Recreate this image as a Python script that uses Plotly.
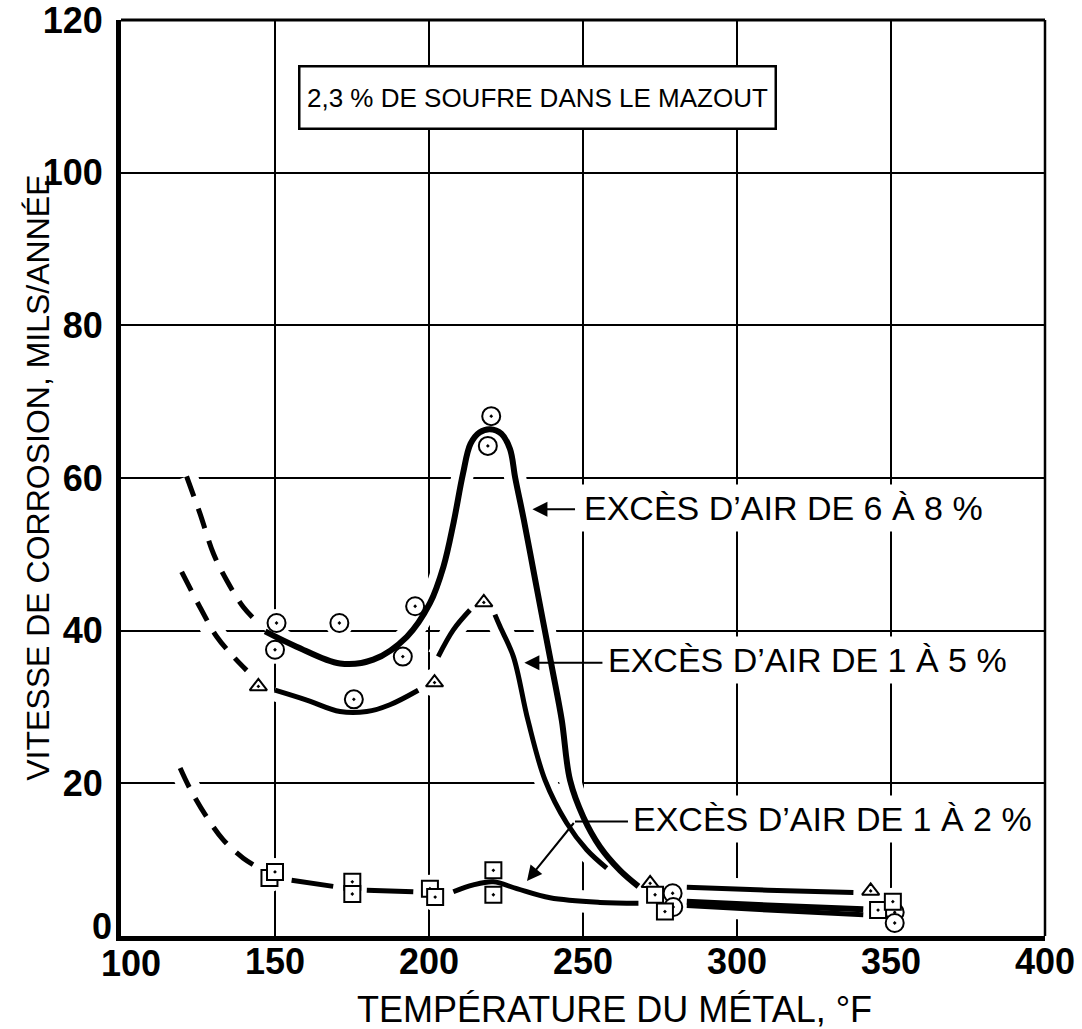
import plotly.graph_objects as go

# ---------------------------------------------------------------------------
# Measured points: metal temperature (°F) vs corrosion rate (mils/year)
# ---------------------------------------------------------------------------
# 6 to 8 % excess air (circles)
T_68 = [150.5, 150.0, 170.9, 175.6, 191.5, 195.5, 219.1, 220.2, 279.1, 279.3, 351.2, 351.2]
V_68 = [41.0, 37.5, 41.0, 31.0, 36.6, 43.2, 64.2, 68.1, 5.6, 3.8, 3.1, 1.7]
# 1 to 5 % excess air (triangles)
T_15 = [144.6, 201.8, 217.8, 271.8, 343.4]
V_15 = [32.7, 33.2, 43.7, 6.9, 5.9]
# 1 to 2 % excess air (squares)
T_12 = [148.2, 150.0, 175.1, 175.1, 200.3, 202.0, 220.9, 220.9, 273.4, 276.6, 345.8, 350.6]
V_12 = [7.6, 8.4, 7.1, 5.5, 6.2, 5.1, 8.6, 5.4, 5.4, 3.2, 3.4, 4.5]

# ---------------------------------------------------------------------------
# Faired curves (dashed = extrapolation, solid = fit; None = break in the line)
# ---------------------------------------------------------------------------
C68_DASH_T = [121.3, 125.6, 130.0, 134.3, 139.7, 144.1]
C68_DASH_V = [60.2, 55.4, 50.1, 46.6, 43.1, 41.2]
C68_T = [146.8, 157.0, 171.1, 181.9, 192.8, 200.3, 204.7, 208.0, 211.0, 213.5, 216.5,
         219.8, 223.5, 226.3, 228.0, 230.8, 233.9, 237.0, 240.1, 243.1, 245.8, 250.1,
         255.5, 262.0, 268.0, None, 283.7, 310.0, 341.0]
C68_V = [39.9, 37.9, 35.7, 36.2, 39.2, 43.6, 48.4, 54.2, 60.5, 64.5, 66.0,
         66.4, 65.8, 63.8, 60.0, 54.5, 47.9, 41.3, 34.8, 28.3, 20.4, 15.6,
         11.7, 8.6, 6.5, None, 4.5, 4.0, 3.5]

C15_DASH_T = [119.7, 125.6, 131.1, 136.5, 140.8]
C15_DASH_V = [47.7, 43.1, 39.2, 36.6, 34.8]
C15_T = [150.0, 160.3, 171.1, 179.8, 187.3, 196.5, None,
         203.0, 207.9, 213.3, None,
         221.4, 223.1, 227.4, 232.1, 237.7, 244.7, 251.2, 257.7, None,
         283.7, 310.0, 337.8]
C15_V = [32.2, 30.9, 29.4, 29.4, 30.3, 32.2, None,
         36.6, 40.1, 42.7, None,
         42.1, 40.5, 36.6, 28.3, 20.4, 14.8, 11.3, 8.9, None,
         6.4, 6.0, 5.7]

C12_DASH_T = [119.2, 122.4, 127.8, 133.2, 139.7, 146.2]
C12_DASH_V = [22.0, 19.3, 15.6, 12.6, 10.2, 8.6]
C12_T = [155.4, 168.9, None, 179.8, 194.9, None,
         207.9, 214.4, 220.9, 228.5, 239.3, 255.5, 268.0, None,
         283.7, 310.0, 341.0]
C12_V = [7.3, 6.5, None, 6.0, 5.8, None,
         5.8, 6.7, 7.1, 6.2, 5.0, 4.4, 4.3, None,
         4.0, 3.4, 2.8]

X_TICKS = [100, 150, 200, 250, 300, 350, 400]
Y_TICKS = [0, 20, 40, 60, 80, 100, 120]

TITLE_BOX = "2,3 % DE SOUFRE DANS LE MAZOUT"
LABEL_68 = "EXCÈS D’AIR DE 6 À 8 %"
LABEL_15 = "EXCÈS D’AIR DE 1 À 5 %"
LABEL_12 = "EXCÈS D’AIR DE 1 À 2 %"
X_TITLE = "TEMPÉRATURE DU MÉTAL, °F"
Y_TITLE = "VITESSE DE CORROSION, MILS/ANNÉE"

INK = "black"
SANS = "Liberation Sans, Arial, Helvetica, sans-serif"
DASH = "21px,13px"

fig = go.Figure()

curves = [
    (C68_DASH_T, C68_DASH_V, 5, DASH),
    (C68_T, C68_V, 6, "solid"),
    (C15_DASH_T, C15_DASH_V, 5, DASH),
    (C15_T, C15_V, 5, "solid"),
    (C12_DASH_T, C12_DASH_V, 5, DASH),
    (C12_T, C12_V, 5, "solid"),
]

# white halos first: the grid is interrupted where curves and symbols cross it
for xs, ys, w, _ in curves:
    fig.add_trace(go.Scatter(x=xs, y=ys, mode="lines", line_shape="spline",
                             line=dict(color="white", width=22),
                             hoverinfo="skip", showlegend=False))
fig.add_trace(go.Scatter(x=T_68 + T_15 + T_12, y=V_68 + V_15 + V_12, mode="markers",
                         marker=dict(symbol="circle", size=28, color="white",
                                     line=dict(width=0)),
                         hoverinfo="skip", showlegend=False))

# the curves themselves
for xs, ys, w, dash in curves:
    fig.add_trace(go.Scatter(x=xs, y=ys, mode="lines", line_shape="spline",
                             line=dict(color=INK, width=w, dash=dash),
                             hoverinfo="skip", showlegend=False))

# data symbols
for xs, ys, sym, size in [(T_68, V_68, "circle-dot", 18),
                          (T_15, V_15, "triangle-up-dot", 15),
                          (T_12, V_12, "square-dot", 16)]:
    fig.add_trace(go.Scatter(x=xs, y=ys, mode="markers",
                             marker=dict(symbol=sym, size=size, color="white",
                                         line=dict(color=INK, width=2)),
                             showlegend=False))

label_font = dict(family=SANS, size=34, color=INK)
tick_font = dict(family=SANS, size=36, color=INK, weight="bold")
arrow = dict(xref="x", yref="y", axref="x", ayref="y", text="", showarrow=True,
             arrowhead=2, arrowsize=1.5, arrowwidth=2, arrowcolor=INK, standoff=3)

annotations = [
    # boxed heading
    dict(x=235.2, y=109.85, xref="x", yref="y", text=TITLE_BOX, showarrow=False,
         font=dict(family=SANS, size=26, color=INK),
         bgcolor="white", bordercolor=INK, borderwidth=2.5, borderpad=0,
         width=474, height=60, xanchor="center", yanchor="middle"),
    # series labels
    dict(x=248.7, y=56.1, xref="x", yref="y", text=LABEL_68, showarrow=False,
         font=label_font, bgcolor="white", borderpad=4,
         xanchor="left", yanchor="middle"),
    dict(x=256.5, y=36.2, xref="x", yref="y", text=LABEL_15, showarrow=False,
         font=label_font, bgcolor="white", borderpad=4,
         xanchor="left", yanchor="middle"),
    dict(x=264.6, y=15.3, xref="x", yref="y", text=LABEL_12, showarrow=False,
         font=label_font, bgcolor="white", borderpad=4,
         xanchor="left", yanchor="middle"),
    # leader arrows
    dict(x=232.6, y=55.9, ax=247.9, ay=55.9, **arrow),
    dict(x=230.0, y=35.8, ax=256.8, ay=35.8, **arrow),
    dict(x=231.2, y=6.9, ax=247.4, ay=15.0, **arrow),
    # corner tick labels, set slightly off the corner so they do not collide
    dict(x=Y_TICKS[0], y=Y_TICKS[0], xref="paper", yref="y", text=str(Y_TICKS[0]),
         showarrow=False, font=tick_font, xanchor="right", yanchor="middle",
         xshift=-7, yshift=10),
    dict(x=X_TICKS[0], y=0, xref="x", yref="paper", text=str(X_TICKS[0]),
         showarrow=False, font=tick_font, xanchor="center", yanchor="middle",
         xshift=10, yshift=-27),
    # axis titles
    dict(x=0.534, y=-0.08, xref="paper", yref="paper", text=X_TITLE, showarrow=False,
         font=dict(family=SANS, size=36, color=INK), xanchor="center", yanchor="middle"),
    dict(x=-0.09, y=0.5, xref="paper", yref="paper", text=Y_TITLE, showarrow=False,
         textangle=-90, font=dict(family=SANS, size=32, color=INK),
         xanchor="center", yanchor="middle"),
]

shapes = [
    # leader stub from the 1-2 % label
    dict(type="line", xref="x", yref="y", x0=247.4, y0=15.0, x1=264.6, y1=15.0,
         line=dict(color=INK, width=2)),
    # top and right frame
    dict(type="line", xref="paper", yref="paper", x0=0, y0=1, x1=1, y1=1,
         line=dict(color=INK, width=3)),
    dict(type="line", xref="paper", yref="paper", x0=1, y0=0, x1=1, y1=1,
         line=dict(color=INK, width=2.5)),
]

fig.update_layout(
    width=1082, height=1029,
    margin=dict(l=121, r=37, t=20, b=93, autoexpand=False),
    paper_bgcolor="white", plot_bgcolor="white",
    showlegend=False,
    annotations=annotations,
    shapes=shapes,
    xaxis=dict(range=[100, 400], tickvals=X_TICKS,
               ticktext=[""] + [str(v) for v in X_TICKS[1:]],
               showgrid=True, gridcolor=INK, gridwidth=1.8, zeroline=False,
               showline=True, linecolor=INK, linewidth=5, ticks="",
               tickfont=tick_font, ticklabelstandoff=-10, automargin=False,
               ticklabeloverflow="allow", fixedrange=True),
    yaxis=dict(range=[0, 120], tickvals=Y_TICKS,
               ticktext=[""] + [str(v) for v in Y_TICKS[1:]],
               showgrid=True, gridcolor=INK, gridwidth=1.8, zeroline=False,
               showline=True, linecolor=INK, linewidth=5, ticks="",
               tickfont=tick_font, ticklabelstandoff=6, automargin=False,
               ticklabeloverflow="allow", fixedrange=True),
)

fig.write_html("out.html")
